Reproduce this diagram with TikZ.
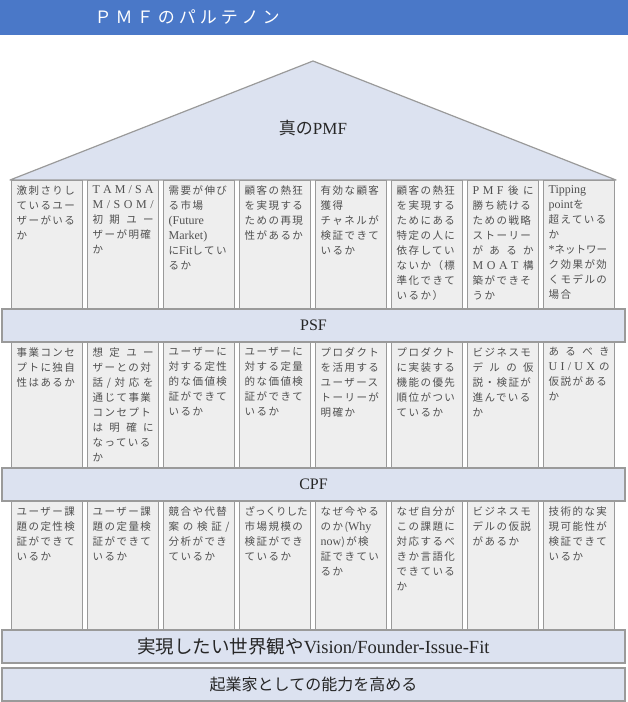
\documentclass[tikz,border=0pt]{standalone}
\usepackage{fontspec}
\setmainfont{Liberation Serif}
\newfontfamily\jp{Noto Sans CJK JP}
\newfontfamily\jpsp[LetterSpace=14]{Noto Sans CJK JP}
\newfontfamily\ttlfont[LetterSpace=24]{Noto Sans CJK JP}
\newcommand{\latn}[1]{{\rmfamily\fontsize{12}{15}\selectfont #1}}
\newcommand{\sprd}[1]{\makebox[\linewidth][s]{#1}}

\definecolor{hdrblue}{HTML}{4A78C8}
\definecolor{bandfill}{HTML}{DCE2F0}
\definecolor{pillarfill}{HTML}{EEEEEE}
\definecolor{edgegray}{HTML}{9A9A9A}
\definecolor{txtgray}{HTML}{505050}

\begin{document}
\begin{tikzpicture}[x=1pt, y=-1pt,
  pillar/.style={draw=edgegray, line width=1.2pt, fill=pillarfill, anchor=north west,
    inner xsep=5pt, inner ysep=5pt, text=txtgray, font=\jpsp\fontsize{10.5}{15}\selectfont,
    execute at begin node={\begin{minipage}[c][#1][t]{61pt}\raggedright},
    execute at end node={\end{minipage}}},
  band/.style={draw=edgegray, line width=1.2pt, fill=bandfill, minimum width=623pt,
    minimum height=33pt, inner sep=0pt, text=black!85, font=\fontsize{16}{18}\selectfont}]
\useasboundingbox (0,0) rectangle (628,702);

% header
\fill[hdrblue] (0,0) rectangle (628,35);
\node (ttl) at (91,17) [anchor=west, text=white, font=\ttlfont\fontsize{17}{17}\selectfont] {ＰＭＦのパルテノン};

% roof
\coordinate (eaveL) at (10,180);
\coordinate (apex) at (313,61);
\coordinate (eaveR) at (616,180);
\draw[draw=edgegray, line width=1.2pt, fill=bandfill, line join=round] (eaveL) -- (apex) -- (eaveR) -- cycle;
\node (pmf) at (313,128) [text=black!85, font=\fontsize{17}{18}\selectfont] {{\jp 真の}PMF};

% PMF pillars
\node (m1) at (11,180) [pillar=119pt] {激刺さりし\\ているユー\\ザーがいる\\か};
\node (m2) at (11+76,180) [pillar=119pt] {\sprd{\latn{T A M / S A}}\\\sprd{\latn{M / S O M /}}\\\sprd{初 期 ユ ー}\\ザーが明確\\か};
\node (m3) at (11+76*2,180) [pillar=119pt] {需要が伸び\\る市場\\\latn{(Future}\\\latn{Market)}\\に\latn{Fit}してい\\るか};
\node (m4) at (11+76*3,180) [pillar=119pt] {顧客の熱狂\\を実現する\\ための再現\\性があるか};
\node (m5) at (11+76*4,180) [pillar=119pt] {有効な顧客\\獲得\\チャネルが\\検証できて\\いるか};
\node (m6) at (11+76*5,180) [pillar=119pt] {顧客の熱狂\\を実現する\\ためにある\\特定の人に\\依存してい\\ないか（標\\準化できて\\いるか）};
\node (m7) at (11+76*6,180) [pillar=119pt] {\sprd{\latn{P M F} 後 に}\\勝ち続ける\\ための戦略\\ストーリー\\\sprd{が あ る か}\\\sprd{\latn{M O A T} 構}\\築ができそ\\うか};
\node (m8) at (11+76*7,180) [pillar=119pt] {\latn{Tipping}\\\latn{point}を\\超えている\\か\\{\jp\latn{*}ネットワー}\\ク効果が効\\くモデルの\\場合};

\node (psf) at (313.5,325.5) [band] {PSF};

% PSF pillars
\node (p1) at (11,342) [pillar=116pt] {事業コンセ\\プトに独自\\性はあるか};
\node (p2) at (11+76,342) [pillar=116pt] {\sprd{想 定 ユ ー}\\ザーとの対\\\sprd{話 / 対 応 を}\\通じて事業\\コンセプト\\\sprd{は 明 確 に}\\なっている\\か};
\node (p3) at (11+76*2,342) [pillar=116pt] {ユーザーに\\対する定性\\的な価値検\\証ができて\\いるか};
\node (p4) at (11+76*3,342) [pillar=116pt] {ユーザーに\\対する定量\\的な価値検\\証ができて\\いるか};
\node (p5) at (11+76*4,342) [pillar=116pt] {プロダクト\\を活用する\\ユーザース\\トーリーが\\明確か};
\node (p6) at (11+76*5,342) [pillar=116pt] {プロダクト\\に実装する\\機能の優先\\順位がつい\\ているか};
\node (p7) at (11+76*6,342) [pillar=116pt] {ビジネスモ\\\sprd{デ ル の 仮}\\説・検証が\\進んでいる\\か};
\node (p8) at (11+76*7,342) [pillar=116pt] {\sprd{あ る べ き}\\\sprd{\latn{U I / U X} の}\\仮説がある\\か};

\node (cpf) at (313.5,484.5) [band] {CPF};

% CPF pillars
\node (c1) at (11,501) [pillar=118pt] {ユーザー課\\題の定性検\\証ができて\\いるか};
\node (c2) at (11+76,501) [pillar=118pt] {ユーザー課\\題の定量検\\証ができて\\いるか};
\node (c3) at (11+76*2,501) [pillar=118pt] {競合や代替\\\sprd{案 の 検 証 /}\\分析ができ\\ているか};
\node (c4) at (11+76*3,501) [pillar=118pt] {{\jp ざっくりした}\\市場規模の\\検証ができ\\ているか};
\node (c5) at (11+76*4,501) [pillar=118pt] {なぜ今やる\\のか(\latn{Why}\\\latn{now})が検\\証できてい\\るか};
\node (c6) at (11+76*5,501) [pillar=118pt] {なぜ自分が\\この課題に\\対応するべ\\きか言語化\\できている\\か};
\node (c7) at (11+76*6,501) [pillar=118pt] {ビジネスモ\\デルの仮説\\があるか};
\node (c8) at (11+76*7,501) [pillar=118pt] {技術的な実\\現可能性が\\検証できて\\いるか};

% foundation
\node (vision) at (313.5,646.5) [band, font=\fontsize{18.5}{20}\selectfont] {{\jp 実現したい世界観や}Vision/Founder-Issue-Fit};
\node (base) at (313.5,684.5) [band] {{\jp 起業家としての能力を高める}};
\end{tikzpicture}
\end{document}
